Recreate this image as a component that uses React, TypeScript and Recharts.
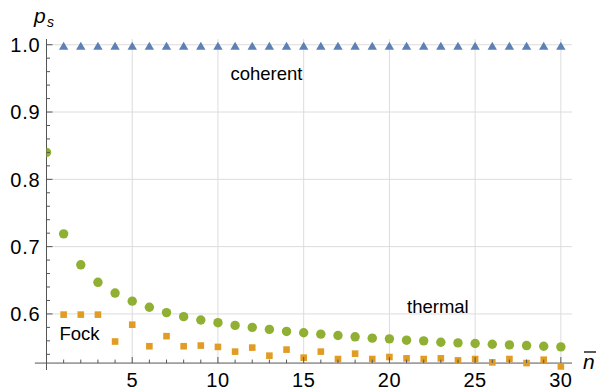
import { ScatterChart, Scatter, XAxis, YAxis, ReferenceLine } from 'recharts'

// mean photon number for each series
const nCoherent = [1, 2, 3, 4, 5, 6, 7, 8, 9, 10, 11, 12, 13, 14, 15, 16, 17, 18, 19, 20, 21, 22, 23, 24, 25, 26, 27, 28, 29, 30]
const psCoherent = [0.998, 0.998, 0.998, 0.998, 0.998, 0.998, 0.998, 0.998, 0.998, 0.998, 0.998, 0.998, 0.998, 0.998, 0.998, 0.998, 0.998, 0.998, 0.998, 0.998, 0.998, 0.998, 0.998, 0.998, 0.998, 0.998, 0.998, 0.998, 0.998, 0.998]

const nThermal = [0, 1, 2, 3, 4, 5, 6, 7, 8, 9, 10, 11, 12, 13, 14, 15, 16, 17, 18, 19, 20, 21, 22, 23, 24, 25, 26, 27, 28, 29, 30]
const psThermal = [0.84, 0.719, 0.673, 0.647, 0.631, 0.619, 0.61, 0.602, 0.596, 0.591, 0.587, 0.583, 0.58, 0.577, 0.574, 0.572, 0.57, 0.568, 0.566, 0.564, 0.563, 0.561, 0.56, 0.558, 0.557, 0.556, 0.555, 0.554, 0.553, 0.552, 0.551]

const nFock = [1, 2, 3, 4, 5, 6, 7, 8, 9, 10, 11, 12, 13, 14, 15, 16, 17, 18, 19, 20, 21, 22, 23, 24, 25, 26, 27, 28, 29, 30]
const psFock = [0.599, 0.599, 0.599, 0.559, 0.584, 0.552, 0.567, 0.552, 0.553, 0.551, 0.544, 0.55, 0.538, 0.547, 0.535, 0.544, 0.533, 0.541, 0.533, 0.536, 0.534, 0.533, 0.534, 0.531, 0.533, 0.528, 0.533, 0.527, 0.532, 0.522]

const xTicks = [1, 2, 3, 4, 5, 6, 7, 8, 9, 10, 11, 12, 13, 14, 15, 16, 17, 18, 19, 20, 21, 22, 23, 24, 25, 26, 27, 28, 29, 30]
const xLabelTicks = [5, 10, 15, 20, 25, 30]
const yTicks = [0.54, 0.56, 0.58, 0.6, 0.62, 0.64, 0.66, 0.68, 0.7, 0.72, 0.74, 0.76, 0.78, 0.8, 0.82, 0.84, 0.86, 0.88, 0.9, 0.92, 0.94, 0.96, 0.98, 1.0]
const yLabelTicks = [0.6, 0.7, 0.8, 0.9, 1.0]

const X_MAX = 30.65
const Y_MIN = 0.5167
const Y_MAX = 1.0085
const X_AXIS_Y = 0.527 // where the horizontal axis crosses

const W = 599
const H = 390
const TOP = 39
const XAXIS_H = 20
const PLOT_H = H - TOP - XAXIS_H
const AXIS_OFFSET = ((X_AXIS_Y - Y_MIN) / (Y_MAX - Y_MIN)) * PLOT_H

const axisColor = '#555'
const gridColor = '#dcdcdc'
const font = "'Liberation Sans', Arial, sans-serif"

const toPoints = (xs: number[], ys: number[]) => xs.map((n, i) => ({ n, ps: ys[i] }))
const coherent = toPoints(nCoherent, psCoherent)
const thermal = toPoints(nThermal, psThermal)
const fock = toPoints(nFock, psFock)

const isMajor = (list: number[], v: number) => list.some((t) => Math.abs(t - v) < 1e-6)

function YTick({ x, y, payload }: any) {
	const major = isMajor(yLabelTicks, payload.value)
	return (
		<g>
			<line x1={x} x2={x + (major ? 6 : 3.5)} y1={y} y2={y} stroke={axisColor} />
			{major && (
				<text x={x - 6} y={y} dy='0.36em' textAnchor='end' fontSize={20} letterSpacing={0.8} fontFamily={font} fill='#000'>
					{payload.value.toFixed(1)}
				</text>
			)}
		</g>
	)
}

function XTick({ x, y, payload }: any) {
	const major = isMajor(xLabelTicks, payload.value)
	const ay = y - AXIS_OFFSET
	return (
		<g>
			<line x1={x} x2={x} y1={ay} y2={ay - (major ? 6 : 3.5)} stroke={axisColor} />
			{major && (
				<text x={x} y={ay + 24} textAnchor='middle' fontSize={20} letterSpacing={0.5} fontFamily={font} fill='#000'>
					{payload.value}
				</text>
			)}
		</g>
	)
}

const Triangle = ({ cx, cy }: any) => (
	<path d={`M${cx},${cy - 4.2} L${cx + 4.7},${cy + 3.8} L${cx - 4.7},${cy + 3.8} Z`} fill='#5E81B5' />
)
const Dot = ({ cx, cy }: any) => <circle cx={cx} cy={cy} r={4.7} fill='#8FB032' />
const Square = ({ cx, cy }: any) => <rect x={cx - 3.3} y={cy - 3.3} width={6.6} height={6.6} fill='#E19C24' />

export default function App() {
	return (
		<div style={{ position: 'absolute', left: 0, top: 0, width: W, height: H, background: '#fff' }}>
			<ScatterChart width={W} height={H} margin={{ top: TOP, right: 27, left: 0, bottom: 0 }}>
				<XAxis
					type='number'
					dataKey='n'
					domain={[0, X_MAX]}
					allowDataOverflow
					ticks={xTicks}
					interval={0}
					tick={<XTick />}
					tickSize={0}
					tickMargin={0}
					tickLine={false}
					axisLine={false}
					height={XAXIS_H}
				/>
				<YAxis
					type='number'
					dataKey='ps'
					domain={[Y_MIN, Y_MAX]}
					allowDataOverflow
					ticks={yTicks}
					interval={0}
					tick={<YTick />}
					tickSize={0}
					tickMargin={0}
					tickLine={false}
					axisLine={{ stroke: axisColor }}
					width={46.5}
				/>
				{yLabelTicks.map((v) => (
					<ReferenceLine key={'h' + v} y={v} stroke={gridColor} />
				))}
				{xLabelTicks.map((v) => (
					<ReferenceLine
						key={'v' + v}
						segment={[{ x: v, y: X_AXIS_Y }, { x: v, y: Y_MAX }]}
						stroke={gridColor}
					/>
				))}
				<Scatter data={coherent} shape={<Triangle />} isAnimationActive={false} />
				<Scatter data={thermal} shape={<Dot />} isAnimationActive={false} />
				<Scatter data={fock} shape={<Square />} isAnimationActive={false} />
				<ReferenceLine
					segment={[{ x: -0.68, y: X_AXIS_Y }, { x: X_MAX, y: X_AXIS_Y }]}
					stroke={axisColor}
					ifOverflow='visible'
				/>
			</ScatterChart>
			<svg
				width={W}
				height={H}
				style={{ position: 'absolute', left: 0, top: 0, pointerEvents: 'none' }}
				fontFamily={font}
			>
				<text x={230.5} y={80} fontSize={18.5}>coherent</text>
				<text x={407} y={313} fontSize={18.5}>thermal</text>
				<text x={59.5} y={340} fontSize={18.5}>Fock</text>
				<text x={34} y={23} fontSize={21} fontStyle='italic'>p</text>
				<text x={47} y={27} fontSize={14} fontStyle='italic'>s</text>
				<text x={583} y={369} fontSize={21} fontStyle='italic'>n</text>
				<line x1={584} x2={596} y1={352} y2={352} stroke='#000' strokeWidth={1.3} />
			</svg>
		</div>
	)
}
